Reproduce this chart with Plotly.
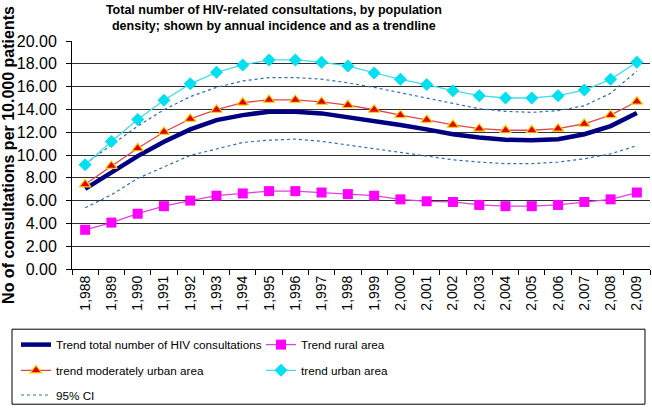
import plotly.graph_objects as go

years = ["1,988", "1,989", "1,990", "1,991", "1,992", "1,993", "1,994", "1,995", "1,996", "1,997", "1,998",
         "1,999", "2,000", "2,001", "2,002", "2,003", "2,004", "2,005", "2,006", "2,007", "2,008", "2,009"]

trend_total = [7.03, 8.52, 9.9, 11.16, 12.25, 13.06, 13.5, 13.8, 13.8, 13.65, 13.34,
               12.97, 12.63, 12.25, 11.82, 11.53, 11.33, 11.3, 11.39, 11.82, 12.54, 13.69]
trend_rural = [3.44, 4.07, 4.85, 5.51, 6.0, 6.43, 6.63, 6.83, 6.83, 6.71, 6.57,
               6.43, 6.11, 5.94, 5.88, 5.62, 5.51, 5.51, 5.62, 5.88, 6.11, 6.71]
trend_moderate = [7.43, 9.04, 10.59, 12.02, 13.17, 13.97, 14.6, 14.83, 14.83, 14.66, 14.38,
                  13.97, 13.49, 13.08, 12.65, 12.31, 12.17, 12.17, 12.31, 12.74, 13.5, 14.69]
trend_urban = [9.15, 11.19, 13.11, 14.8, 16.24, 17.25, 17.9, 18.34, 18.34, 18.14, 17.8,
               17.2, 16.64, 16.18, 15.64, 15.2, 15.0, 15.0, 15.2, 15.7, 16.64, 18.14]
ci_upper = [9.2, 10.87, 12.54, 13.97, 15.12, 15.93, 16.5, 16.79, 16.79, 16.65, 16.33,
            15.93, 15.47, 14.98, 14.49, 14.06, 13.83, 13.74, 13.89, 14.32, 15.41, 17.36]
ci_lower = [5.37, 6.51, 7.95, 8.95, 9.96, 10.53, 11.1, 11.3, 11.39, 11.2, 10.87,
            10.53, 10.19, 9.87, 9.58, 9.38, 9.24, 9.24, 9.38, 9.67, 10.1, 10.82]

FONT = "Liberation Sans, Arial, sans-serif"
CI_COLOR = "#2F6EAF"

fig = go.Figure()

fig.add_trace(go.Scatter(x=years, y=ci_upper, mode="lines", name="95% CI", legendgroup="ci", legend="legend3",
                         line=dict(color=CI_COLOR, width=1.2, dash="dot")))
fig.add_trace(go.Scatter(x=years, y=ci_lower, mode="lines", name="95% CI", legendgroup="ci", legend="legend3",
                         showlegend=False, line=dict(color=CI_COLOR, width=1.2, dash="dot")))
fig.add_trace(go.Scatter(x=years, y=trend_total, mode="lines", name="Trend total number of HIV consultations",
                         legend="legend", line=dict(color="#000080", width=4.5)))
fig.add_trace(go.Scatter(x=years, y=trend_rural, mode="lines+markers", name="Trend rural area",
                         legend="legend", line=dict(color="#E040E0", width=1.3),
                         marker=dict(symbol="square", size=10, color="#FF00FF")))
fig.add_trace(go.Scatter(x=years, y=trend_moderate, mode="lines+markers", name="trend moderately urban area",
                         legend="legend2", line=dict(color="#E04848", width=1.3),
                         marker=dict(symbol="triangle-up", size=10, color="#E00000",
                                     line=dict(color="#FFD000", width=1.2))))
fig.add_trace(go.Scatter(x=years, y=trend_urban, mode="lines+markers", name="trend urban area",
                         legend="legend2", line=dict(color="#40DDEE", width=1.3),
                         marker=dict(symbol="diamond", size=10, color="#00E0F0")))

leg_common = dict(orientation="h", xanchor="left", yanchor="top", x=-0.0969,
                  borderwidth=0, bgcolor="rgba(0,0,0,0)",
                  entrywidth=200, entrywidthmode="pixels",
                  font=dict(size=11.7, family=FONT), traceorder="normal")

fig.update_layout(
    width=652, height=411,
    margin=dict(l=72, r=2, t=41, b=139),
    plot_bgcolor="white", paper_bgcolor="white",
    font=dict(family=FONT, color="black"),
    title=dict(text="<b>Total number of HIV-related consultations, by population<br>density; shown by annual incidence and as a trendline</b>",
               x=0.42, xanchor="center", y=0.966, yanchor="top", font=dict(size=12.5)),
    showlegend=True,
    legend=dict(leg_common, y=-0.268),
    legend2=dict(leg_common, y=-0.381),
    legend3=dict(leg_common, y=-0.489),
    shapes=[dict(type="rect", xref="paper", yref="paper", x0=-0.1038, x1=0.9913, y0=-0.593, y1=-0.264,
                 line=dict(color="black", width=1), fillcolor="rgba(0,0,0,0)")],
)

fig.update_xaxes(type="category", tickson="boundaries", ticks="outside", ticklen=5, tickcolor="black",
                 showline=True, linecolor="black", linewidth=1, showgrid=False,
                 tickangle=-90, tickfont=dict(size=14), range=[-0.5, 21.5])
fig.update_yaxes(range=[0, 20], dtick=2, tickformat=".2f", ticks="outside", ticklen=5, tickcolor="black",
                 showline=True, linecolor="black", linewidth=1, showgrid=True, gridcolor="#303030",
                 gridwidth=1, zeroline=False, tickfont=dict(size=16), ticklabelstandoff=6,
                 title=dict(text="<b>No of consultations per 10.000 patients</b>", font=dict(size=16), standoff=2))

fig.write_html("out.html", config={"displayModeBar": False},
               post_script="document.body.style.margin='0';")
